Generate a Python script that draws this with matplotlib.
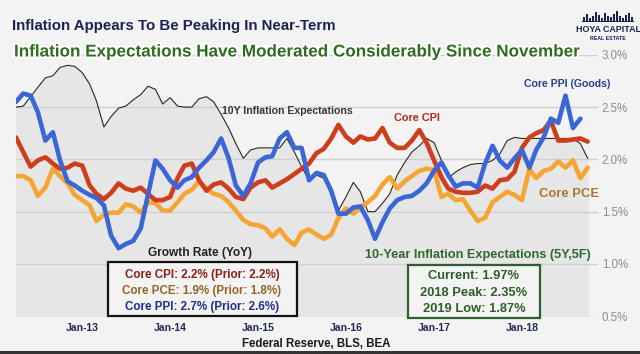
import numpy as np
import pandas as pd
import matplotlib.pyplot as plt
import matplotlib.dates as mdates
import matplotlib.patheffects as pe
from matplotlib.patches import Rectangle

# monthly, Apr-2012 .. Oct-2018 (YoY %)
months = pd.date_range('2012-04-01', periods=79, freq='MS')

core_ppi = [2.55, 2.63, 2.61, 2.45, 2.18, 2.26, 1.99, 1.79, 1.75, 1.70,
            1.66, 1.63, 1.56, 1.27, 1.15, 1.19, 1.22, 1.34, 1.66, 1.99,
            1.91, 1.80, 1.73, 1.80, 1.83, 1.92, 1.99, 2.07, 2.20, 2.01,
            1.75, 1.65, 1.77, 1.97, 2.02, 2.03, 2.20, 2.26, 2.11, 2.11,
            1.80, 1.87, 1.85, 1.70, 1.48, 1.48, 1.54, 1.55, 1.42, 1.24,
            1.40, 1.53, 1.61, 1.64, 1.65, 1.70, 1.77, 1.89, 1.97, 1.85,
            1.74, 1.77, 1.77, 1.73, 1.96, 2.13, 1.99, 1.92, 2.01, 2.09,
            1.92, 2.09, 2.21, 2.39, 2.35, 2.61, 2.30, 2.39]

core_cpi = [2.21, 2.07, 1.93, 1.99, 2.02, 1.96, 1.91, 1.92, 1.96, 1.94,
            1.75, 1.67, 1.62, 1.68, 1.77, 1.72, 1.70, 1.73, 1.67, 1.61,
            1.61, 1.64, 1.82, 1.94, 1.96, 1.80, 1.70, 1.76, 1.78, 1.72,
            1.64, 1.62, 1.73, 1.78, 1.80, 1.73, 1.77, 1.81, 1.86, 1.91,
            1.96, 2.06, 2.10, 2.20, 2.33, 2.22, 2.16, 2.22, 2.19, 2.20,
            2.30, 2.16, 2.11, 2.11, 2.18, 2.28, 2.16, 1.99, 1.83, 1.72,
            1.69, 1.68, 1.68, 1.69, 1.75, 1.72, 1.80, 1.81, 1.88, 2.11,
            2.21, 2.25, 2.28, 2.37, 2.18, 2.18, 2.19, 2.20, 2.17]

core_pce = [1.84, 1.84, 1.80, 1.65, 1.73, 1.91, 1.84, 1.77, 1.66, 1.61,
            1.56, 1.41, 1.47, 1.49, 1.49, 1.57, 1.55, 1.49, 1.59, 1.58,
            1.51, 1.51, 1.59, 1.67, 1.71, 1.79, 1.72, 1.67, 1.65, 1.59,
            1.51, 1.42, 1.38, 1.37, 1.34, 1.26, 1.33, 1.24, 1.18, 1.30,
            1.33, 1.28, 1.24, 1.28, 1.44, 1.53, 1.48, 1.54, 1.59, 1.65,
            1.76, 1.83, 1.72, 1.79, 1.84, 1.89, 1.91, 1.90, 1.64, 1.67,
            1.61, 1.62, 1.51, 1.41, 1.44, 1.59, 1.64, 1.69, 1.66, 1.61,
            1.91, 1.82, 1.89, 1.91, 1.98, 1.92, 1.99, 1.82, 1.92]

exp_10y = [2.50, 2.51, 2.60, 2.69, 2.78, 2.80, 2.88, 2.90, 2.89, 2.83,
           2.72, 2.56, 2.31, 2.41, 2.49, 2.51, 2.57, 2.62, 2.70, 2.67,
           2.53, 2.59, 2.51, 2.50, 2.50, 2.58, 2.60, 2.55, 2.43, 2.30,
           2.15, 2.01, 2.09, 2.11, 2.11, 2.11, 2.11, 2.20, 2.07, 1.93,
           1.80, 1.85, 1.82, 1.67, 1.51, 1.64, 1.78, 1.69, 1.50, 1.50,
           1.58, 1.67, 1.85, 1.97, 2.07, 2.13, 2.20, 2.16, 1.99, 1.82,
           1.88, 1.92, 1.95, 1.96, 1.96, 1.99, 2.05, 2.18, 2.21, 2.20,
           2.20, 2.20, 2.20, 2.20, 2.20, 2.20, 2.20, 2.15, 2.01]

yticks = [0.5, 1.0, 1.5, 2.0, 2.5, 3.0]
xtick_years = [2013, 2014, 2015, 2016, 2017, 2018]

NARROW = ['Liberation Sans Narrow', 'DejaVu Sans Condensed', 'Liberation Sans',
          'DejaVu Sans']
WIDE = ['Liberation Sans', 'DejaVu Sans']
BG = '#f3f3f3'
NAVY = '#1d2152'

fig = plt.figure(figsize=(6.4, 3.54), dpi=100, facecolor=BG)
ax = fig.add_axes([0.025, 0.107, 0.909, 0.738], facecolor=BG)

ax.fill_between(months, exp_10y, 0.5, color='#e6e6e6', zorder=1)
ax.plot(months, exp_10y, color='#2b2b22', lw=0.8, zorder=3)
ax.plot(months, core_pce, color='#f5a534', lw=3.3, zorder=4, solid_capstyle='round')
ax.plot(months, core_cpi, color='#cf3e1c', lw=3.3, zorder=5, solid_capstyle='round')
ax.plot(months[:len(core_ppi)], core_ppi, color='#3a66d6', lw=3.3, zorder=6,
        solid_capstyle='round')

ax.set_ylim(0.5, 3.0)
ax.set_xlim(pd.Timestamp('2012-04-01'), pd.Timestamp('2018-11-12'))
ax.set_yticks(yticks)
ax.set_yticklabels(['%.1f%%' % v for v in yticks], color='#8c8c8c',
                   fontsize=8.3, family=WIDE)
ax.yaxis.tick_right()
ax.set_xticks([pd.Timestamp('%d-01-01' % y) for y in xtick_years])
ax.xaxis.set_major_formatter(mdates.DateFormatter('%b-%y'))
for lab in ax.get_xticklabels():
    lab.set_family(NARROW)
    lab.set_fontweight('bold')
    lab.set_fontsize(7.5)
    lab.set_color('#1f2a55')
ax.tick_params(length=0, pad=5)
ax.tick_params(axis='y', pad=3)
ax.grid(axis='y', color='#cfcfcf', lw=1, zorder=0)
ax.grid(axis='x', visible=False)
for s in ax.spines.values():
    s.set_visible(False)

# series labels
lab_kw = dict(family=NARROW, fontweight='bold', va='center', zorder=7)
ax.text(pd.Timestamp('2014-08-05'), 2.46, '10Y Inflation Expectations',
        fontsize=7.6, color='#333a2c', **lab_kw)
ax.text(pd.Timestamp('2016-07-20'), 2.40, 'Core CPI', fontsize=7.8,
        color='#b8261a', **lab_kw)
ax.text(pd.Timestamp('2018-01-10'), 2.72, 'Core PPI (Goods)', fontsize=7.6,
        color='#24418f', **lab_kw)
ax.text(pd.Timestamp('2018-03-15'), 1.67, 'Core PCE', fontsize=9.4,
        color='#a77a2a', **lab_kw)

# titles
fig.text(12 / 640, 1 - 26 / 354, 'Inflation Appears To Be Peaking In Near-Term',
         family=NARROW, fontweight='bold', fontsize=10.8, color=NAVY, va='center')
sub = fig.text(14 / 640, 1 - 52 / 354,
               'Inflation Expectations Have Moderated Considerably Since November',
               family=WIDE, fontweight='bold', fontsize=12.3, color='#2e6c1e', va='center')
sub.set_path_effects([pe.withStroke(linewidth=3, foreground='white')])

# logo (skyline + name)
skyline = [4, 7, 3, 5, 9, 6, 3, 8, 5, 4, 7, 10, 5, 3, 6, 8, 4]
for i, h in enumerate(skyline):
    fig.patches.append(Rectangle(((583 + 3 * i) / 640, 1 - 21 / 354), 2 / 640, h / 354,
                                 transform=fig.transFigure, facecolor=NAVY,
                                 edgecolor='none'))
fig.patches.append(Rectangle((582 / 640, 1 - 22 / 354), 52 / 640, 1.5 / 354,
                             transform=fig.transFigure, facecolor=NAVY,
                             edgecolor='none'))
fig.text(608 / 640, 1 - 29 / 354, 'HOYA CAPITAL', family=NARROW, fontweight='bold',
         fontsize=6.4, color=NAVY, ha='center', va='center')
fig.text(608 / 640, 1 - 38 / 354, 'REAL ESTATE', family=NARROW, fontweight='bold',
         fontsize=3.8, color=NAVY, ha='center', va='center')

# growth rate box
fig.text(200 / 640, 1 - 253 / 354, 'Growth Rate (YoY)', family=NARROW,
         fontweight='bold', fontsize=8.6, color='#222222', ha='center', va='center')
fig.patches.append(Rectangle((108 / 640, 1 - 316 / 354), 189 / 640, 54 / 354,
                             transform=fig.transFigure, fill=True, facecolor=BG,
                             edgecolor='#111111', lw=1.6, zorder=8))
box_lines = ['Core CPI: 2.2% (Prior: 2.2%)', 'Core PCE: 1.9% (Prior: 1.8%)',
             'Core PPI: 2.7% (Prior: 2.6%)']
box_colors = ['#8e1d16', '#946426', '#1f2c8c']
for i, (t, c) in enumerate(zip(box_lines, box_colors)):
    fig.text(202 / 640, 1 - (275 + 16 * i) / 354, t, family=NARROW, fontweight='bold',
             fontsize=8.4, color=c, ha='center', va='center', zorder=9)

# expectations box
fig.text(478 / 640, 1 - 255 / 354, '10-Year Inflation Expectations (5Y,5F)',
         family=NARROW, fontweight='bold', fontsize=9.2, color='#2e6a2a',
         ha='center', va='center')
fig.patches.append(Rectangle((408 / 640, 1 - 318 / 354), 132 / 640, 53 / 354,
                             transform=fig.transFigure, fill=True, facecolor=BG,
                             edgecolor='#2f5f2a', lw=1.6, zorder=8))
exp_lines = ['Current: 1.97%', '2018 Peak: 2.35%', '2019 Low: 1.87%']
for i, t in enumerate(exp_lines):
    fig.text(474 / 640, 1 - (276 + 16.5 * i) / 354, t, family=NARROW, fontweight='bold',
             fontsize=9.3, color='#2d5e28', ha='center', va='center', zorder=9)

fig.text(316 / 640, 1 - 344 / 354, 'Federal Reserve, BLS, BEA', family=NARROW,
         fontweight='bold', fontsize=8.3, color='#1a1a1a', ha='center', va='center')
fig.patches.append(Rectangle((0, 0), 1, 3 / 354, transform=fig.transFigure,
                             facecolor='#333333', edgecolor='none'))

fig.savefig('out.png', dpi=100, facecolor=BG)
